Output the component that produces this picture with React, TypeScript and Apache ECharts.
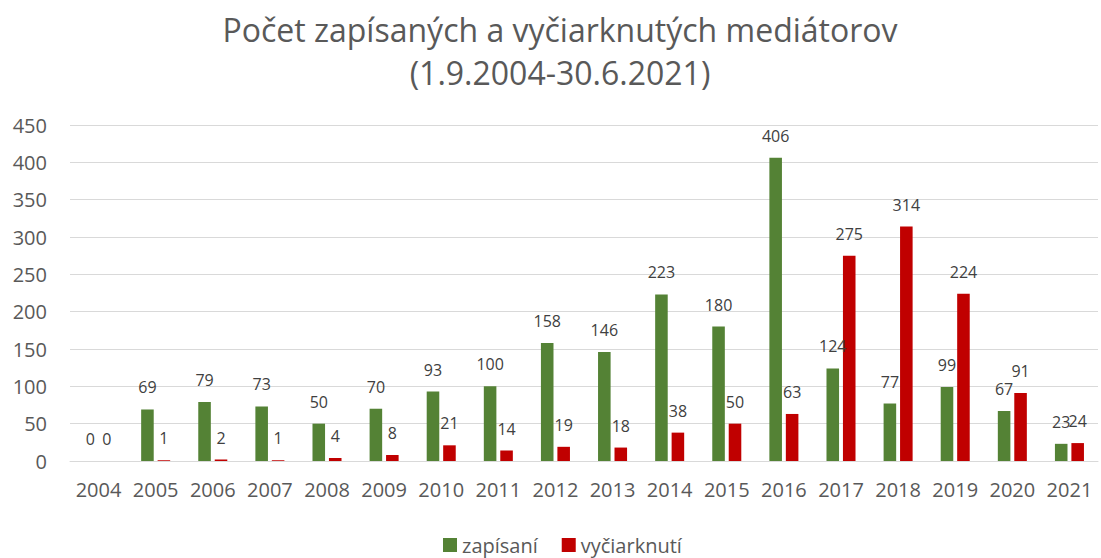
import React, { useEffect, useRef } from "react";
import * as echarts from "echarts";

const years = ["2004","2005","2006","2007","2008","2009","2010","2011","2012","2013","2014","2015","2016","2017","2018","2019","2020","2021"];
const zapisani = [0,69,79,73,50,70,93,100,158,146,223,180,406,124,77,99,67,23];
const vyciarknuti = [0,1,2,1,4,8,21,14,19,18,38,50,63,275,314,224,91,24];
const yTicks = { min: 0, max: 450, interval: 50 };
const titleLines = ["Počet zapísaných a vyčiarknutých mediátorov", "(1.9.2004-30.6.2021)"];

const FONT = "Open Sans";
const TXT = "#595959";

export default function App() {
  const ref = useRef<HTMLDivElement>(null);
  useEffect(() => {
    const chart = echarts.init(ref.current!, null, { renderer: "svg" });
    const label = {
      show: true,
      position: "top" as const,
      distance: 14,
      color: "#404040",
      fontFamily: FONT,
      fontSize: 16,
    };
    chart.setOption({
      animation: false,
      graphic: titleLines.map((t, i) => ({
        type: "text",
        x: 560,
        y: i === 0 ? 29 : 72,
        style: {
          text: t,
          fontFamily: FONT,
          fontSize: 32,
          fill: TXT,
          textAlign: "center",
          textVerticalAlign: "middle",
        },
      })),
      legend: {
        top: 535,
        left: 443,
        padding: 0,
        itemWidth: 14,
        itemHeight: 14,
        itemGap: 24,
        icon: "rect",
        textStyle: { fontFamily: FONT, fontSize: 20, color: TXT },
        data: ["zapísaní", "vyčiarknutí"],
      },
      grid: { left: 70, right: 3, top: 125, bottom: 97 },
      xAxis: {
        type: "category",
        data: years,
        axisLine: { lineStyle: { color: "#d9d9d9", width: 1 } },
        axisTick: { show: false },
        axisLabel: { interval: 0, fontFamily: FONT, fontSize: 20, color: TXT, margin: 18 },
      },
      yAxis: {
        type: "value",
        min: yTicks.min,
        max: yTicks.max,
        interval: yTicks.interval,
        axisLine: { show: false },
        axisTick: { show: false },
        splitLine: { lineStyle: { color: "#d9d9d9", width: 1 } },
        axisLabel: { fontFamily: FONT, fontSize: 20, color: TXT, margin: 23 },
      },
      series: [
        {
          name: "zapísaní",
          type: "bar",
          data: zapisani,
          barWidth: "22%",
          barGap: "31%",
          itemStyle: { color: "#548235" },
          label,
        },
        {
          name: "vyčiarknutí",
          type: "bar",
          data: vyciarknuti,
          barWidth: "22%",
          itemStyle: { color: "#C00000" },
          label,
        },
      ],
    });
    return () => chart.dispose();
  }, []);
  return (
    <div
      ref={ref}
      style={{ position: "absolute", left: 0, top: 0, width: 1101, height: 558 }}
    />
  );
}
